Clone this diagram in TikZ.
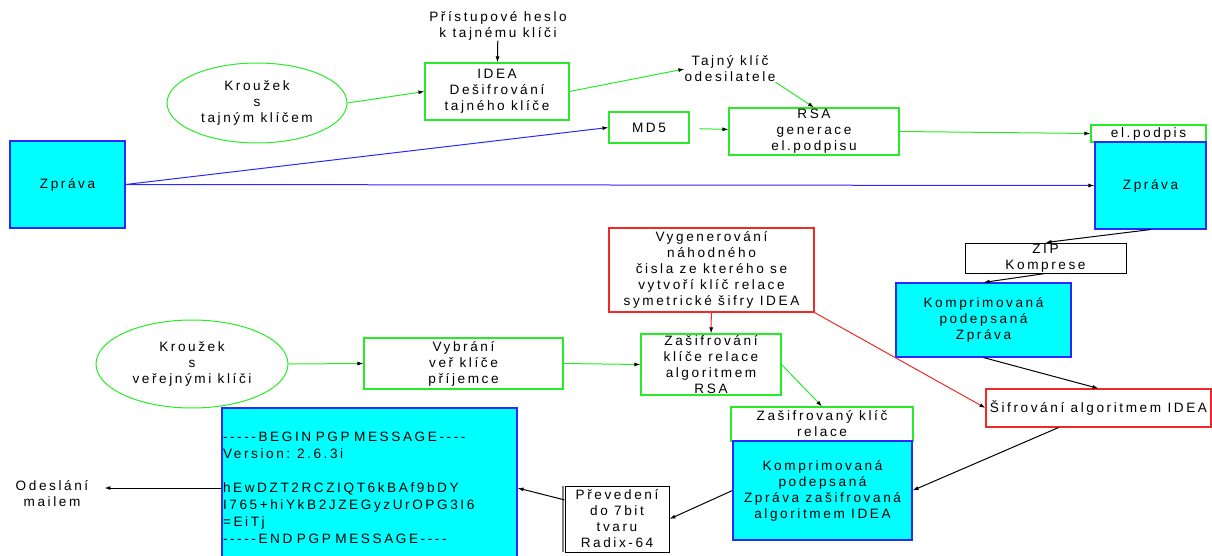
\documentclass[tikz,border=0pt]{standalone}
\usepackage{fontspec}
\setmainfont{Liberation Sans}[LetterSpace=19,Ligatures=TeXOff]
\usetikzlibrary{shapes.geometric,arrows.meta}
\definecolor{linegreen}{RGB}{40,235,40}
\definecolor{boxblue}{RGB}{40,40,255}
\definecolor{linered}{RGB}{240,40,40}
\definecolor{msgcyan}{RGB}{0,255,255}

\begin{document}
\begin{tikzpicture}
  [x=1pt,y=-1pt,
   every node/.style={font=\fontsize{13.6}{16}\selectfont,align=center,inner sep=0pt},
   boxsize/.style 2 args={minimum width=#1pt,minimum height=#2pt},
   greenbox/.style={draw=linegreen,line width=1.1pt},
   redbox/.style={draw=linered,line width=1.1pt},
   blackbox/.style={draw=black,line width=0.9pt},
   msgbox/.style={draw=boxblue,fill=msgcyan,line width=1.1pt},
   ring/.style={ellipse,draw=linegreen,line width=1pt},
   arr/.style={-{Latex[length=6pt,width=4pt,color=black]},line width=1pt},
   gline/.style={arr,linegreen},
   bline/.style={arr,boxblue},
   rline/.style={arr,linered},
   kline/.style={arr,black}]
  \useasboundingbox (0,0) rectangle (1212,556);

  % signing
  \node (heslo) at (498,26) {Přístupové heslo\\k tajnému klíči};
  \node[ring,boxsize={180}{80}] (ring1) at (257,103) {Kroužek\\s\\tajným klíčem};
  \node[greenbox,boxsize={144}{57}] (ideabox) at (497,91.5) {IDEA\\Dešifrování\\tajného klíče};
  \node (tajny) at (730,69) {Tajný klíč\\odesilatele};
  \node[greenbox,boxsize={80}{31}] (md5) at (649,127.5) {MD5};
  \node[greenbox,boxsize={170}{47}] (rsa) at (814,131.5) {RSA\\generace\\el.podpisu};
  \node[greenbox,boxsize={115}{17}] (podpis) at (1148.5,133.5) {el.podpis};
  \node[msgbox,boxsize={115}{87}] (zprava1) at (67.5,184.5) {Zpráva};
  \node[msgbox,boxsize={111}{87}] (zprava2) at (1150.5,185.5) {Zpráva};

  % compression and encryption
  \node[blackbox,boxsize={161}{30}] (zip) at (1045.5,258) {ZIP\\Komprese};
  \node[msgbox,boxsize={175}{74}] (kompr1) at (983.5,320) {Komprimovaná\\podepsaná\\Zpráva};
  \node[redbox,boxsize={205}{84}] (vygen) at (711.5,270)
    {Vygenerování\\náhodného\\čisla ze kterého se\\vytvoří klíč relace\\symetrické šifry  IDEA};
  \node[greenbox,boxsize={140}{61}] (zasif) at (711,364.5) {Zašifrování\\klíče relace\\algoritmem\\RSA};
  \node[redbox,boxsize={225}{38}] (sifr) at (1098.5,408) {Šifrování algoritmem IDEA};
  \node[ring,boxsize={192}{88}] (ring2) at (192,364) {Kroužek\\s\\veřejnými klíči};
  \node[greenbox,boxsize={199}{51}] (vybrani) at (463.5,363.5) {Vybrání\\veř klíče\\příjemce};
  \node[greenbox,boxsize={182}{34}] (klic) at (822,424) {Zašifrovaný klíč\\relace};
  \node[msgbox,boxsize={179}{99}] (kompr2) at (822.5,490.5)
    {Komprimovaná\\podepsaná\\Zpráva zašifrovaná\\algoritmem IDEA};
  \node[blackbox,boxsize={104}{66}] (prev) at (617,519) {Převedení\\do 7bit\\tvaru\\Radix-64};
  \draw[gray,line width=1.5pt] ([xshift=-1.6pt]prev.north west) -- ([xshift=-1.6pt]prev.south west);
  \node[msgbox,boxsize={295}{160},text width=293pt,align=left,inner xsep=1pt,
        font=\fontsize{13.6}{17}\selectfont] (pgp) at (369.5,488)
    {-----BEGIN PGP MESSAGE----\\Version: 2.6.3i\\~\\hEwDZT2RCZIQT6kBAf9bDY\\I765+hiYkB2JZEGyzUrOPG3I6\\=EiTj\\-----END PGP MESSAGE----};
  \node (odeslani) at (52,494) {Odeslání\\mailem};

  \draw[arr] (heslo) -- (ideabox);
  \foreach \from/\to in {ring1.east/ideabox.west, ideabox.east/tajny.west,
      tajny.south east/rsa.north, rsa.east/podpis.west, ring2.east/vybrani.west,
      vybrani.east/zasif.west, zasif.east/klic.north}
    \draw[gline] (\from) -- (\to);
  \draw[gline,shorten <=10pt] (md5) -- (rsa);
  \foreach \to in {md5.west,zprava2.west}
    \draw[bline] (zprava1.east) -- (\to);
  \foreach \from/\to in {vygen/zasif, vygen.south east/sifr.west}
    \draw[rline] (\from) -- (\to);
  \foreach \from/\to in {zprava2.south/zip.north, zip.south/kompr1.north,
      kompr1.south/sifr.north, kompr2.west/prev.east, prev.160/pgp.east}
    \draw[kline] (\from) -- (\to);
  \draw[kline] ([xshift=-40pt]sifr.south) -- (kompr2.east);
  \draw[kline,shorten >=16pt] (pgp.west) -- (pgp.west -| odeslani.east);
\end{tikzpicture}
\end{document}
